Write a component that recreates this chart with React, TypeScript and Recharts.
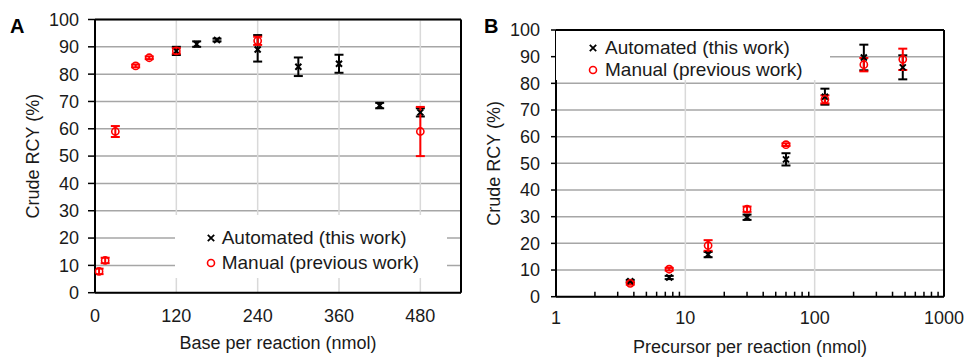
import React from 'react';
import {
  ScatterChart,
  Scatter,
  XAxis,
  YAxis,
  CartesianGrid,
  ErrorBar,
  ReferenceLine,
  Legend,
} from 'recharts';

const FONT = '"Liberation Sans", Arial, Helvetica, sans-serif';
const TEXT = '#1a1a1a';
const RED = '#ff0000';
const GRID_H = '#a6a6a6';
const GRID_V = '#d9d9d9';

const AUTO_NAME = 'Automated (this work)';
const MANUAL_NAME = 'Manual (previous work)';

// Panel A: base per reaction (nmol)
const autoBaseX = [120, 150, 180, 240, 300, 360, 420, 480];
const autoBaseY = [88.5, 91, 92.5, 89, 82.7, 83.8, 68.5, 66];
const autoBaseErr: (number | number[])[] = [1.5, 1, 0.5, [4.4, 5.3], 3.4, 3.3, 1, 1.5];

const manualBaseX = [6, 15, 30, 60, 80, 120, 240, 480];
const manualBaseY = [7.8, 11.8, 59, 83, 86, 88.5, 92.2, 59];
const manualBaseErr: (number | number[])[] = [1, 1, 2, 0.5, 0.5, 1, 1.5, 9];

const baseTicks = [0, 120, 240, 360, 480];
const baseDomain = [0, 540];

// Panel B: precursor per reaction (nmol), log axis
const precursorX = [3.75, 7.5, 15, 30, 60, 120, 240, 480];
const autoPrecY = [5.8, 7.2, 15.8, 29.8, 51.5, 75, 89.7, 86];
const autoPrecErr: (number | number[])[] = [0.5, 0.6, 1, 1, 2.3, 3, 4.8, 4.5];
const manualPrecY = [5, 10.3, 19.2, 32.8, 57, 74, 87, 89];
const manualPrecErr: (number | number[])[] = [0.5, 0.5, 2, 1, 0.5, 1.5, 2.5, 4];

const precMajorTicks = [1, 10, 100, 1000];
const precMinorSteps = [2, 3, 4, 5, 6, 7, 8, 9];
const precDomain = [1, 1000];

const yTicks = [0, 10, 20, 30, 40, 50, 60, 70, 80, 90, 100];
const yDomain = [0, 100];

const toPoints = (xs: number[], ys: number[], errs: (number | number[])[]) =>
  xs.map((x, i) => ({ x, y: ys[i], err: errs[i] }));

const precTicks = [
  ...precMajorTicks,
  ...precMajorTicks.slice(0, -1).flatMap((d) => precMinorSteps.map((k) => d * k)),
].sort((a, b) => a - b);

const CrossShape = (p: any) => {
  const { cx, cy } = p;
  const s = 3;
  return (
    <path
      d={`M${cx - s},${cy - s}L${cx + s},${cy + s}M${cx - s},${cy + s}L${cx + s},${cy - s}`}
      stroke="#000"
      strokeWidth={2}
      fill="none"
    />
  );
};

const RingShape = (p: any) => (
  <circle cx={p.cx} cy={p.cy} r={3.6} fill="none" stroke={RED} strokeWidth={1.6} />
);

const LegendBox = ({ payload, markX, textX, rows }: any) => (
  <div style={{ position: 'relative', width: '100%', height: '100%', background: '#fff' }}>
    {(payload || []).map((entry: any, i: number) => {
      const isAuto = entry.value === AUTO_NAME;
      return (
        <div key={entry.value} style={{ position: 'absolute', left: 0, top: rows[i] - 10, height: 20, width: '100%' }}>
          <svg width={12} height={12} style={{ position: 'absolute', left: markX - 6, top: 4 }}>
            {isAuto ? (
              <path d="M2.8,2.8L9.2,9.2M2.8,9.2L9.2,2.8" stroke="#000" strokeWidth={1.8} />
            ) : (
              <circle cx={6} cy={6} r={3.5} fill="none" stroke={RED} strokeWidth={1.6} />
            )}
          </svg>
          <span
            style={{
              position: 'absolute',
              left: textX,
              top: 0,
              fontSize: 19,
              lineHeight: '20px',
              whiteSpace: 'nowrap',
              color: TEXT,
              fontFamily: FONT,
            }}
          >
            {entry.value}
          </span>
        </div>
      );
    })}
  </div>
);

const YTitle = (props: any) => {
  const vb = props.viewBox;
  const x = vb.x + vb.width - 62;
  const y = vb.y + vb.height / 2;
  return (
    <text
      x={x}
      y={y}
      transform={`rotate(-90 ${x} ${y})`}
      textAnchor="middle"
      dominantBaseline="central"
      fontSize={18}
      fill={TEXT}
      fontFamily={FONT}
    >
      Crude RCY (%)
    </text>
  );
};

const XTitle = (text: string) => (props: any) => {
  const vb = props.viewBox;
  return (
    <text
      x={vb.x + vb.width / 2}
      y={vb.y + 50}
      textAnchor="middle"
      dominantBaseline="central"
      fontSize={18}
      fill={TEXT}
      fontFamily={FONT}
    >
      {text}
    </text>
  );
};

const LogTick = (p: any) => {
  const { x, y, payload } = p;
  const v = payload.value;
  if (!precMajorTicks.includes(v)) {
    return <line x1={x} x2={x} y1={y} y2={y - 5} stroke="#000" strokeWidth={1.5} />;
  }
  return (
    <text x={x} y={y + 21} textAnchor="middle" dominantBaseline="central" fontSize={18} fill={TEXT} fontFamily={FONT}>
      {v}
    </text>
  );
};

const tickStyle = { fontSize: 18, fill: TEXT, fontFamily: FONT };

const PanelTag = ({ label, left, top }: { label: string; left: number; top: number }) => (
  <div
    style={{
      position: 'absolute',
      left,
      top,
      fontSize: 20,
      lineHeight: '20px',
      fontWeight: 700,
      fontFamily: FONT,
      color: '#000',
    }}
  >
    {label}
  </div>
);

const BaseChart = () => (
  <ScatterChart width={480} height={358} margin={{ top: 19.5, right: 19, bottom: 35.3, left: 55 }}>
    <CartesianGrid vertical={false} stroke={GRID_H} strokeWidth={1.5} />
    {baseTicks.slice(1).map((t) => (
      <ReferenceLine key={t} x={t} stroke={GRID_V} strokeWidth={1.5} />
    ))}
    <ReferenceLine y={yDomain[1]} stroke="#000" strokeWidth={2} />
    <ReferenceLine x={baseDomain[1]} stroke="#000" strokeWidth={2} />
    <XAxis
      type="number"
      dataKey="x"
      domain={baseDomain}
      ticks={baseTicks}
      interval={0}
      tickLine={false}
      tickSize={0}
      tickMargin={17}
      height={30}
      axisLine={{ stroke: '#000', strokeWidth: 2 }}
      tick={tickStyle}
      label={{ content: XTitle('Base per reaction (nmol)') }}
    />
    <YAxis
      type="number"
      dataKey="y"
      domain={yDomain}
      ticks={yTicks}
      interval={0}
      width={40}
      tickSize={7}
      tickMargin={9}
      tickLine={{ stroke: '#000', strokeWidth: 1.5 }}
      axisLine={{ stroke: '#000', strokeWidth: 2 }}
      tick={tickStyle}
      label={{ content: YTitle }}
    />
    <Scatter
      name={AUTO_NAME}
      data={toPoints(autoBaseX, autoBaseY, autoBaseErr)}
      shape={CrossShape}
      fill="#000"
      isAnimationActive={false}
    >
      <ErrorBar dataKey="err" direction="y" width={4.5} stroke="#000" strokeWidth={2} isAnimationActive={false} />
    </Scatter>
    <Scatter
      name={MANUAL_NAME}
      data={toPoints(manualBaseX, manualBaseY, manualBaseErr)}
      shape={RingShape}
      fill={RED}
      isAnimationActive={false}
    >
      <ErrorBar dataKey="err" direction="y" width={4.5} stroke={RED} strokeWidth={2} isAnimationActive={false} />
    </Scatter>
    <Legend
      layout="vertical"
      align="center"
      verticalAlign="middle"
      wrapperStyle={{ left: 175, top: 215, width: 272, height: 63, margin: 0 }}
      content={<LegendBox markX={36} textX={46.7} rows={[23.3, 48.3]} />}
    />
  </ScatterChart>
);

const PrecursorChart = () => (
  <ScatterChart width={489} height={358} margin={{ top: 30, right: 25, bottom: 31.3, left: 36 }}>
    <CartesianGrid vertical={false} stroke={GRID_H} strokeWidth={1.5} />
    {precMajorTicks.slice(1, -1).map((t) => (
      <ReferenceLine key={t} x={t} stroke={GRID_V} strokeWidth={1.5} />
    ))}
    <ReferenceLine y={yDomain[1]} stroke="#000" strokeWidth={2} />
    <ReferenceLine x={precDomain[1]} stroke="#000" strokeWidth={2} />
    <XAxis
      type="number"
      dataKey="x"
      scale="log"
      domain={precDomain}
      ticks={precTicks}
      interval={0}
      allowDataOverflow
      tickLine={false}
      tickSize={0}
      tickMargin={0}
      height={30}
      axisLine={{ stroke: '#000', strokeWidth: 2 }}
      tick={<LogTick />}
      label={{ content: XTitle('Precursor per reaction (nmol)') }}
    />
    <YAxis
      type="number"
      dataKey="y"
      domain={yDomain}
      ticks={yTicks}
      interval={0}
      width={40}
      tickSize={5}
      tickMargin={11}
      tickLine={{ stroke: '#000', strokeWidth: 1.5 }}
      axisLine={{ stroke: '#000', strokeWidth: 2 }}
      tick={tickStyle}
      label={{ content: YTitle }}
    />
    <Scatter
      name={AUTO_NAME}
      data={toPoints(precursorX, autoPrecY, autoPrecErr)}
      shape={CrossShape}
      fill="#000"
      isAnimationActive={false}
    >
      <ErrorBar dataKey="err" direction="y" width={4.5} stroke="#000" strokeWidth={2} isAnimationActive={false} />
    </Scatter>
    <Scatter
      name={MANUAL_NAME}
      data={toPoints(precursorX, manualPrecY, manualPrecErr)}
      shape={RingShape}
      fill={RED}
      isAnimationActive={false}
    >
      <ErrorBar dataKey="err" direction="y" width={4.5} stroke={RED} strokeWidth={2} isAnimationActive={false} />
    </Scatter>
    <Legend
      layout="vertical"
      align="center"
      verticalAlign="middle"
      wrapperStyle={{ left: 76, top: 31, width: 274, height: 49, margin: 0 }}
      content={<LegendBox markX={37} textX={49} rows={[17.3, 39]} />}
    />
  </ScatterChart>
);

export default function App() {
  return (
    <div
      style={{
        position: 'absolute',
        left: 0,
        top: 0,
        width: 969,
        height: 358,
        background: '#fff',
        fontFamily: FONT,
        overflow: 'hidden',
      }}
    >
      <div style={{ position: 'absolute', left: 0, top: 0 }}>
        <BaseChart />
      </div>
      <div style={{ position: 'absolute', left: 480, top: 0 }}>
        <PrecursorChart />
      </div>
      <PanelTag label="A" left={10} top={16} />
      <PanelTag label="B" left={484} top={16} />
    </div>
  );
}
